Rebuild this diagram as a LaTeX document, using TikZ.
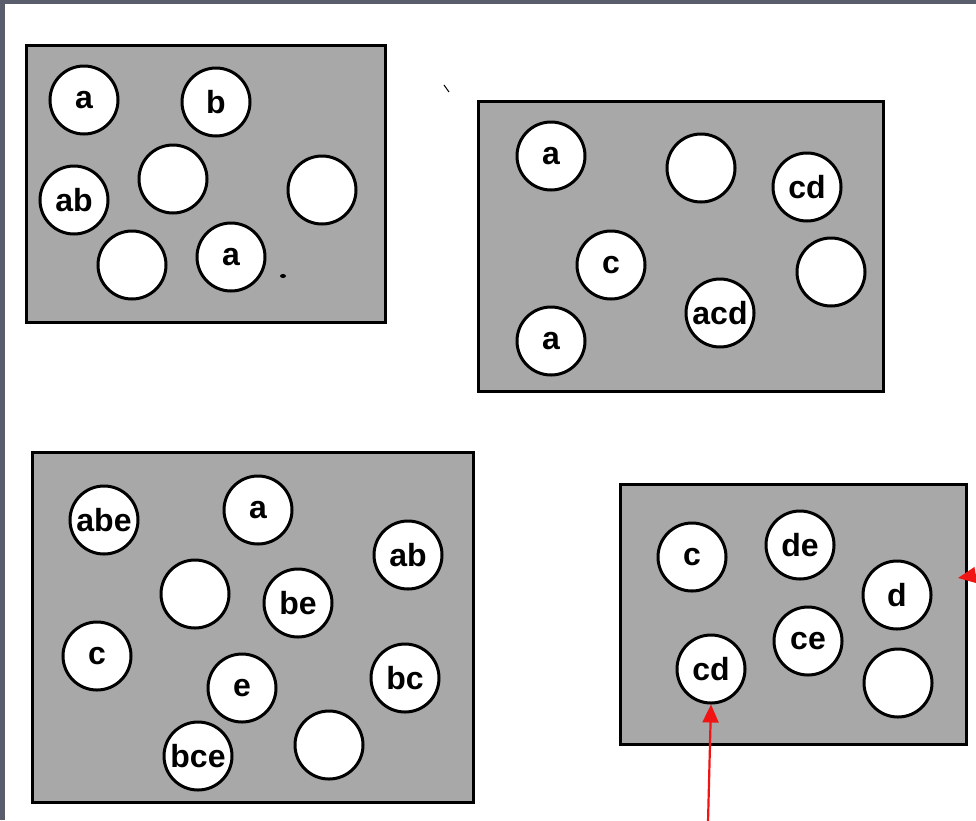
\documentclass[tikz,border=0pt]{standalone}
\usepackage{fontspec}
\setmainfont{Liberation Sans}
\usetikzlibrary{arrows.meta}
\definecolor{panel}{RGB}{168,168,168}
\definecolor{frame}{RGB}{90,93,107}
\definecolor{pointer}{RGB}{240,20,20}
\begin{document}
\begin{tikzpicture}[x=1pt,y=-1pt,
  panelbox/.style={draw=black,line width=3pt,fill=panel},
  cell/.style={circle,draw=black,line width=3pt,fill=white,minimum size=68pt,inner sep=0pt,
    font=\fontsize{32}{32}\selectfont\bfseries},
  pointerline/.style={draw=pointer,line width=2.2pt,-{Triangle[length=18pt,width=16pt]}}]
  \useasboundingbox (0,0) rectangle (976,820);
  \fill[white] (0,0) rectangle (976,820);
  % window frame edges
  \fill[frame] (0,0) rectangle (976,4);
  \fill[frame] (0,0) rectangle (5,820);

  % panel 1
  \path[panelbox] (26,45) rectangle (385,322);
  \node[cell] (p1a) at (84,100) {a};
  \node[cell] (p1b) at (216,102) {b};
  \node[cell] (p1ab) at (74,200) {ab};
  \node[cell] (p1e1) at (173,179) {};
  \node[cell] (p1e2) at (322,190) {};
  \node[cell] (p1e3) at (132,265) {};
  \node[cell] (p1a2) at (231,257) {a};
  \fill (283,276) ellipse (3pt and 2pt);

  % panel 2
  \path[panelbox] (478,101) rectangle (883,391);
  \node[cell] (p2a) at (551,156) {a};
  \node[cell] (p2e1) at (701,168) {};
  \node[cell] (p2cd) at (807,187) {cd};
  \node[cell] (p2c) at (611,265) {c};
  \node[cell] (p2e2) at (831,272) {};
  \node[cell] (p2acd) at (720,313) {acd};
  \node[cell] (p2a2) at (551,341) {a};
  \draw[line width=1pt] (444,85) -- (449,92);

  % panel 3
  \path[panelbox] (32,452) rectangle (473,802);
  \node[cell] (p3abe) at (104,520) {abe};
  \node[cell] (p3a) at (258,510) {a};
  \node[cell] (p3ab) at (408,555) {ab};
  \node[cell] (p3e1) at (195,594) {};
  \node[cell] (p3be) at (298,603) {be};
  \node[cell] (p3c) at (97,656) {c};
  \node[cell] (p3e) at (242,688) {e};
  \node[cell] (p3bc) at (405,678) {bc};
  \node[cell] (p3bce) at (198,756) {bce};
  \node[cell] (p3e2) at (329,745) {};

  % panel 4
  \path[panelbox] (620,484) rectangle (966,744);
  \node[cell] (p4c) at (692,557) {c};
  \node[cell] (p4de) at (800,545) {de};
  \node[cell] (p4d) at (897,595) {d};
  \node[cell] (p4ce) at (808,641) {ce};
  \node[cell] (p4cd) at (711,669) {cd};
  \node[cell] (p4e) at (898,683) {};

  % red pointers
  \coordinate (tail1) at (708,822);
  \coordinate (tail2) at (995,572);
  \coordinate (tip2) at (958,578);
  \draw[pointerline] (tail1) -- (p4cd.south);
  \draw[pointerline] (tail2) -- (tip2);
\end{tikzpicture}
\end{document}
